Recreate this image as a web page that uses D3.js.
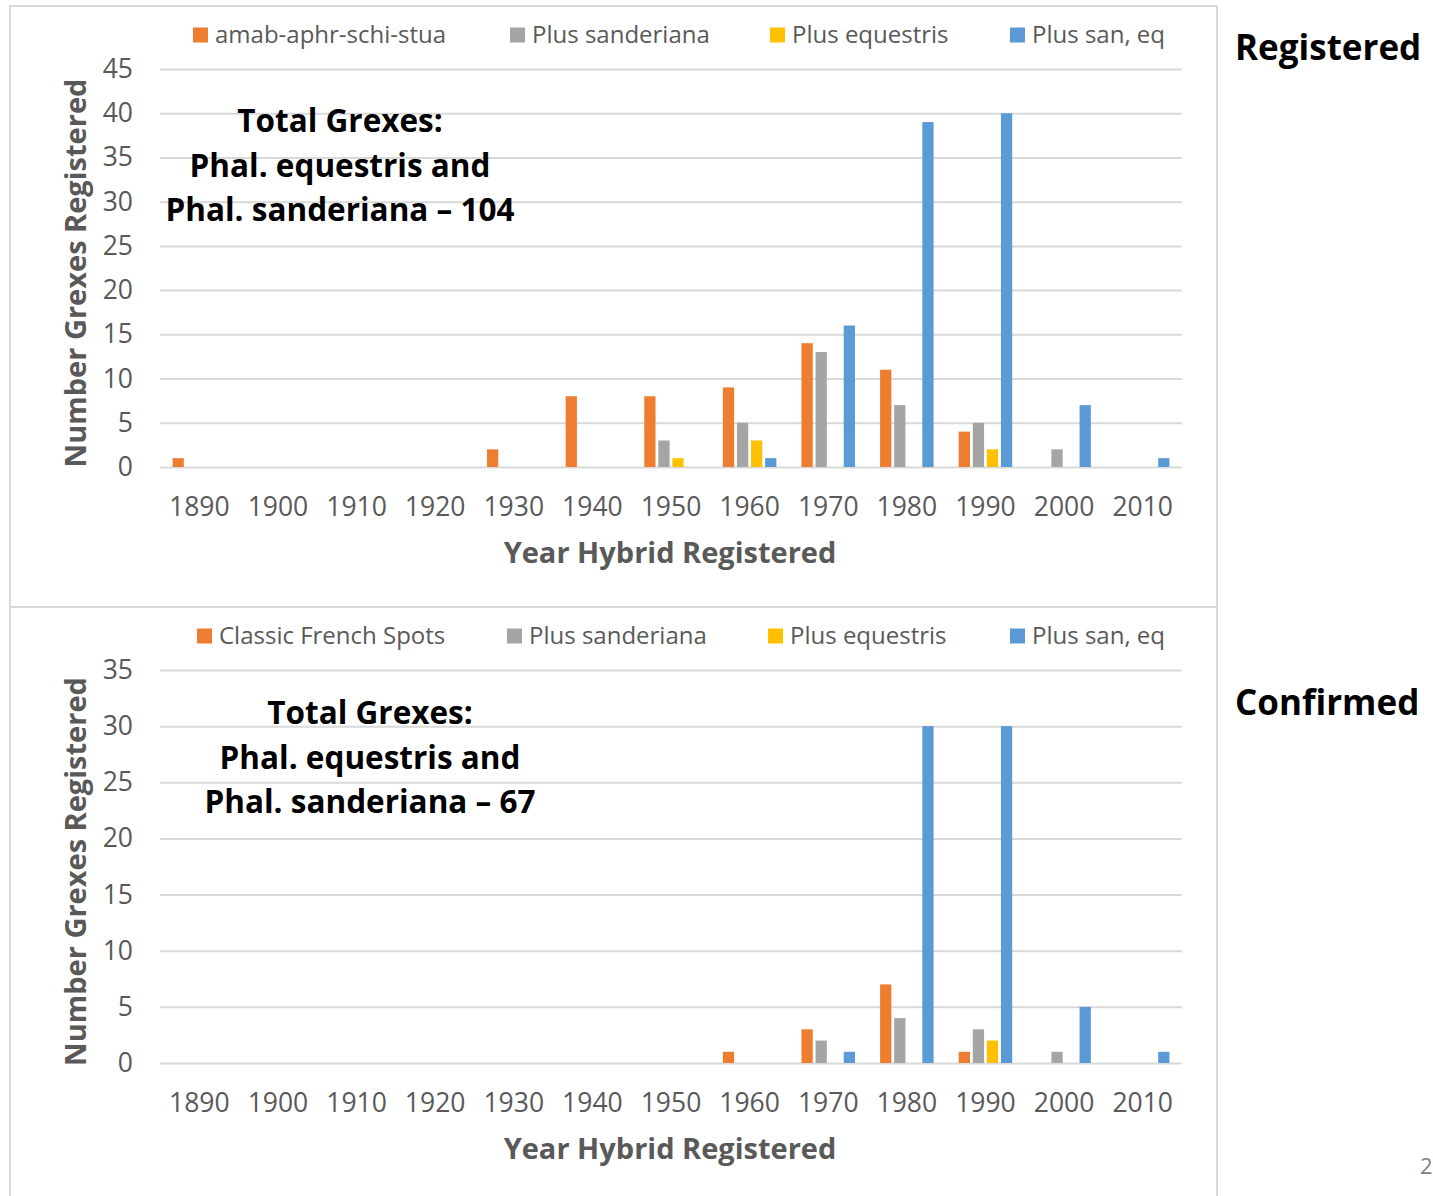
<!DOCTYPE html>
<html>
<head>
<meta charset="utf-8">
<script src="https://cdn.jsdelivr.net/npm/d3@7"></script>
<style>
  html, body { margin: 0; padding: 0; background: #fff; }
  svg { display: block; font-family: "Open Sans", sans-serif; }
</style>
</head>
<body>
<svg id="chart" width="1433" height="1196"></svg>
<script>
// ---- data ----
const years = ["1890","1900","1910","1920","1930","1940","1950","1960","1970","1980","1990","2000","2010"];
const regSeriesNames = ["amab-aphr-schi-stua","Plus sanderiana","Plus equestris","Plus san, eq"];
const confSeriesNames = ["Classic French Spots","Plus sanderiana","Plus equestris","Plus san, eq"];
const seriesColors = ["#ED7D31","#A5A5A5","#FFC000","#5B9BD5"];

const regAmab   = [1,0,0,0,2,8,8,9,14,11,4,0,0];
const regSand   = [0,0,0,0,0,0,3,5,13,7,5,2,0];
const regEq     = [0,0,0,0,0,0,1,3,0,0,2,0,0];
const regSanEq  = [0,0,0,0,0,0,0,1,16,39,40,7,1];

const confFrench = [0,0,0,0,0,0,0,1,3,7,1,0,0];
const confSand   = [0,0,0,0,0,0,0,0,2,4,3,1,0];
const confEq     = [0,0,0,0,0,0,0,0,0,0,2,0,0];
const confSanEq  = [0,0,0,0,0,0,0,0,1,30,30,5,1];

const regTicks  = [0,5,10,15,20,25,30,35,40,45];
const confTicks = [0,5,10,15,20,25,30,35];

const yAxisTitle = "Number Grexes Registered";
const xAxisTitle = "Year Hybrid Registered";
const regNote  = ["Total Grexes:","Phal. equestris and","Phal. sanderiana \u2013 104"];
const confNote = ["Total Grexes:","Phal. equestris and","Phal. sanderiana \u2013 67"];
const sideLabels = ["Registered","Confirmed"];

// ---- drawing ----
const svg = d3.select("#chart");
const textGray = "#595959";
const gridColor = "#d9d9d9";

svg.append("rect").attr("x",10).attr("y",6).attr("width",1207).attr("height",601)
  .attr("fill","none").attr("stroke",gridColor).attr("stroke-width",2);
svg.append("rect").attr("x",10).attr("y",607).attr("width",1207).attr("height",600)
  .attr("fill","none").attr("stroke",gridColor).attr("stroke-width",2);

function drawPanel(opt) {
  const g = svg.append("g");
  const x0 = d3.scaleBand().domain(years).range([160,1182]).padding(0);
  const groupW = 53.5;
  const x1 = d3.scaleBand().domain(d3.range(4)).range([0,groupW]).paddingInner(0.2);
  const y = d3.scaleLinear().domain([0, d3.max(opt.ticks)]).range([opt.y0, opt.yTop]);

  const yAxis = d3.axisLeft(y).tickValues(opt.ticks).tickSize(-(1182-160)).tickPadding(27).tickFormat(d3.format("d"));
  const ga = g.append("g").attr("transform","translate(160,0)").call(yAxis);
  ga.select(".domain").remove();
  ga.selectAll(".tick line").attr("stroke",gridColor).attr("stroke-width",2);
  ga.selectAll(".tick text").attr("fill",textGray).style("font-size","26.5px").style("font-family","'Open Sans', sans-serif");

  const seriesData = opt.series;
  years.forEach((yr,i) => {
    const off = x0(yr) + (x0.bandwidth()-groupW)/2;
    seriesData.forEach((arr,s) => {
      const v = arr[i];
      if (!v) return;
      g.append("rect")
        .attr("x", off + x1(s))
        .attr("y", y(v))
        .attr("width", x1.bandwidth())
        .attr("height", y(0)-y(v))
        .attr("fill", seriesColors[s]);
    });
  });

  const xAxis = d3.axisBottom(x0).tickSize(0).tickPadding(30);
  const gx = g.append("g").attr("transform",`translate(0,${opt.y0})`).call(xAxis);
  gx.select(".domain").remove();
  gx.selectAll(".tick text").attr("fill",textGray).style("font-size","26.5px").style("font-family","'Open Sans', sans-serif");

  g.append("text").attr("transform",`translate(86,${(opt.y0+opt.yTop)/2+5}) rotate(-90)`)
    .attr("text-anchor","middle").attr("fill",textGray)
    .style("font-size","29px").style("font-weight","bold").text(yAxisTitle);
  g.append("text").attr("x",670).attr("y",opt.y0+96).attr("text-anchor","middle").attr("fill",textGray)
    .style("font-size","29px").style("font-weight","bold").text(xAxisTitle);

  const legX = opt.legendX;
  opt.names.forEach((n,s) => {
    g.append("rect").attr("x",legX[s]).attr("y",opt.legendY-7.5).attr("width",15).attr("height",15).attr("fill",seriesColors[s]);
    g.append("text").attr("x",legX[s]+22).attr("y",opt.legendY).attr("dy","0.35em")
      .attr("fill",textGray).style("font-size","24px").text(n);
  });

  opt.note.forEach((t,k) => {
    g.append("text").attr("x",opt.noteX).attr("y",opt.noteY + k*44.5).attr("dy","0.35em")
      .attr("text-anchor","middle").attr("fill","#000")
      .style("font-size","31.5px").style("font-weight","bold").text(t);
  });
}

drawPanel({
  series:[regAmab,regSand,regEq,regSanEq], names:regSeriesNames, ticks:regTicks,
  y0:467, yTop:69, legendX:[193,510,770,1010], legendY:35, note:regNote, noteX:340, noteY:121
});
drawPanel({
  series:[confFrench,confSand,confEq,confSanEq], names:confSeriesNames, ticks:confTicks,
  y0:1063, yTop:670, legendX:[197,507,768,1010], legendY:636, note:confNote, noteX:370, noteY:713
});

svg.append("text").attr("x",1235).attr("y",48).attr("dy","0.35em").attr("fill","#000")
  .style("font-size","35px").style("font-weight","bold").text(sideLabels[0]);
svg.append("text").attr("x",1235).attr("y",703).attr("dy","0.35em").attr("fill","#000")
  .style("font-size","35px").style("font-weight","bold").text(sideLabels[1]);
svg.append("text").attr("x",1420).attr("y",1166).attr("dy","0.35em").attr("fill","#7f7f7f")
  .style("font-size","22px").text("2");
</script>
</body>
</html>
